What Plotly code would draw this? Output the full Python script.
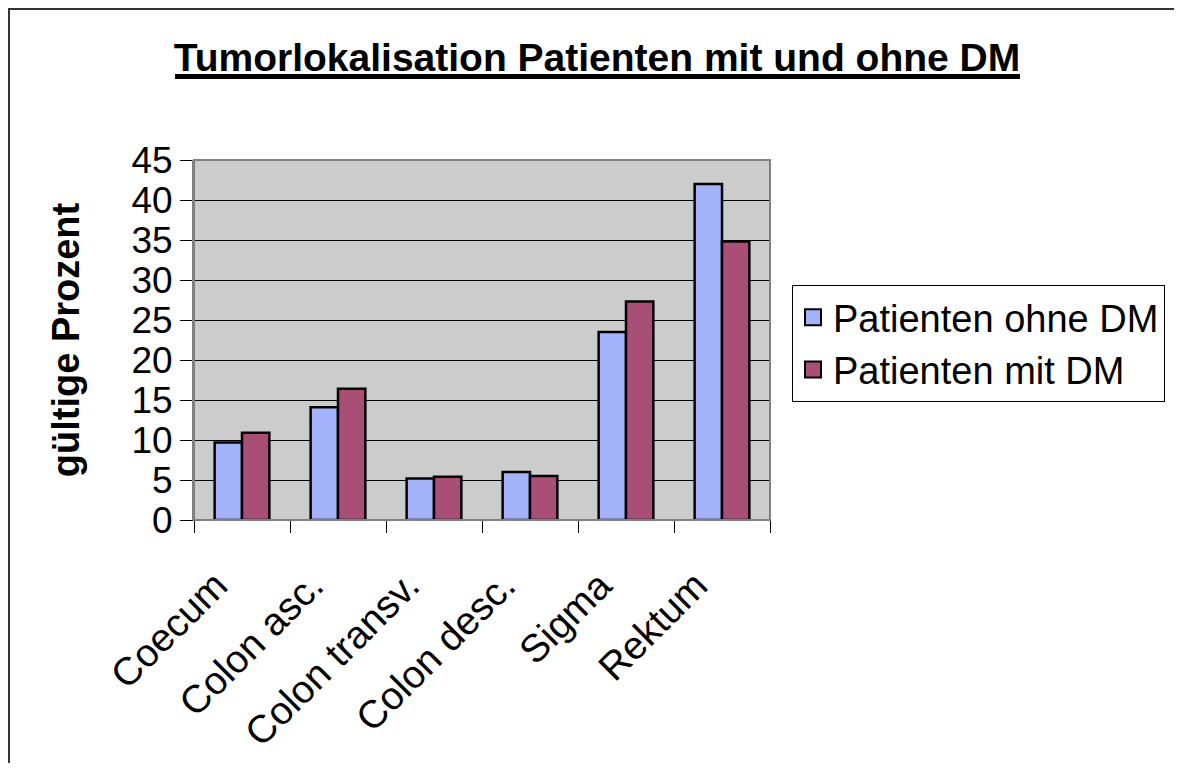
import plotly.graph_objects as go

categories = ["Coecum", "Colon asc.", "Colon transv.", "Colon desc.", "Sigma", "Rektum"]
ohne_dm = [9.7, 14.1, 5.2, 6.0, 23.5, 42.0]
mit_dm = [10.9, 16.4, 5.4, 5.5, 27.3, 34.8]
y_ticks = [0, 5, 10, 15, 20, 25, 30, 35, 40, 45]
series_names = ["Patienten ohne DM", "Patienten mit DM"]
series_colors = ["#a4b2fa", "#a94f77"]

FONT = "Liberation Sans, Arial, sans-serif"
# page has an 8px body margin; figure coordinates = page coordinates - 8
W, H = 1166, 755
L, R, T, B = 186, 404, 152, 243
pw, ph = W - L - R, H - T - B

def px(x):
    return (x - L) / pw

def py(y):
    return (H - B - y) / ph

fig = go.Figure()
for vals, name, col in zip([ohne_dm, mit_dm], series_names, series_colors):
    fig.add_trace(go.Bar(x=categories, y=vals, name=name, showlegend=False,
                         marker=dict(color=col, line=dict(color="black", width=2.5))))
    # legend-only entries with larger square symbols
    fig.add_trace(go.Scatter(x=[None], y=[None], mode="markers", name=name,
                             marker=dict(symbol="square", size=16, color=col,
                                         line=dict(color="black", width=2))))

fig.update_layout(
    width=W, height=H,
    margin=dict(l=L, r=R, t=T, b=B, autoexpand=False),
    paper_bgcolor="white", plot_bgcolor="#cccccc",
    font=dict(family=FONT, size=38, color="black"),
    barmode="group", bargap=0.43, bargroupgap=0,
    title=dict(text="<b>Tumorlokalisation Patienten mit und ohne DM</b>",
               x=px(589), xref="paper", xanchor="center",
               y=1 - 49 / H, yanchor="middle",
               font=dict(family=FONT, size=39, color="black")),
    legend=dict(x=px(784), y=py(277), xanchor="left", yanchor="top",
                bordercolor="black", borderwidth=1, bgcolor="white",
                font=dict(family=FONT, size=38), tracegroupgap=0,
                itemwidth=30),
    xaxis=dict(showgrid=False, ticks="outside", tickson="boundaries", ticklen=12,
               tickcolor="black", tickwidth=1, showline=True, linecolor="#333333",
               linewidth=1, tickangle=-45, tickfont=dict(size=39), automargin=False,
               ticklabelstandoff=26, ticklabelshift=-26),
    yaxis=dict(range=[0, 45], tickvals=y_ticks, showgrid=True, gridcolor="black",
               gridwidth=1, ticks="outside", ticklen=12, tickcolor="black",
               showline=True, linecolor="#808080", linewidth=2, zeroline=False,
               tickfont=dict(size=37), automargin=False,
               title=dict(text="<b>gültige Prozent</b>", font=dict(size=38), standoff=40)),
    shapes=[
        dict(type="rect", xref="paper", yref="paper", x0=0, x1=1, y0=0, y1=1,
             line=dict(color="#808080", width=2), layer="above"),
        dict(type="line", xref="paper", yref="paper", x0=px(0), x1=px(W),
             y0=py(1), y1=py(1), line=dict(color="#333333", width=2)),
        dict(type="line", xref="paper", yref="paper", x0=px(1), x1=px(1),
             y0=py(0), y1=py(H), line=dict(color="#333333", width=2)),
        dict(type="line", xref="paper", yref="paper", x0=px(167), x1=px(1012),
             y0=py(68.5), y1=py(68.5), line=dict(color="black", width=5)),
    ],
)

fig.write_html("out.html")
